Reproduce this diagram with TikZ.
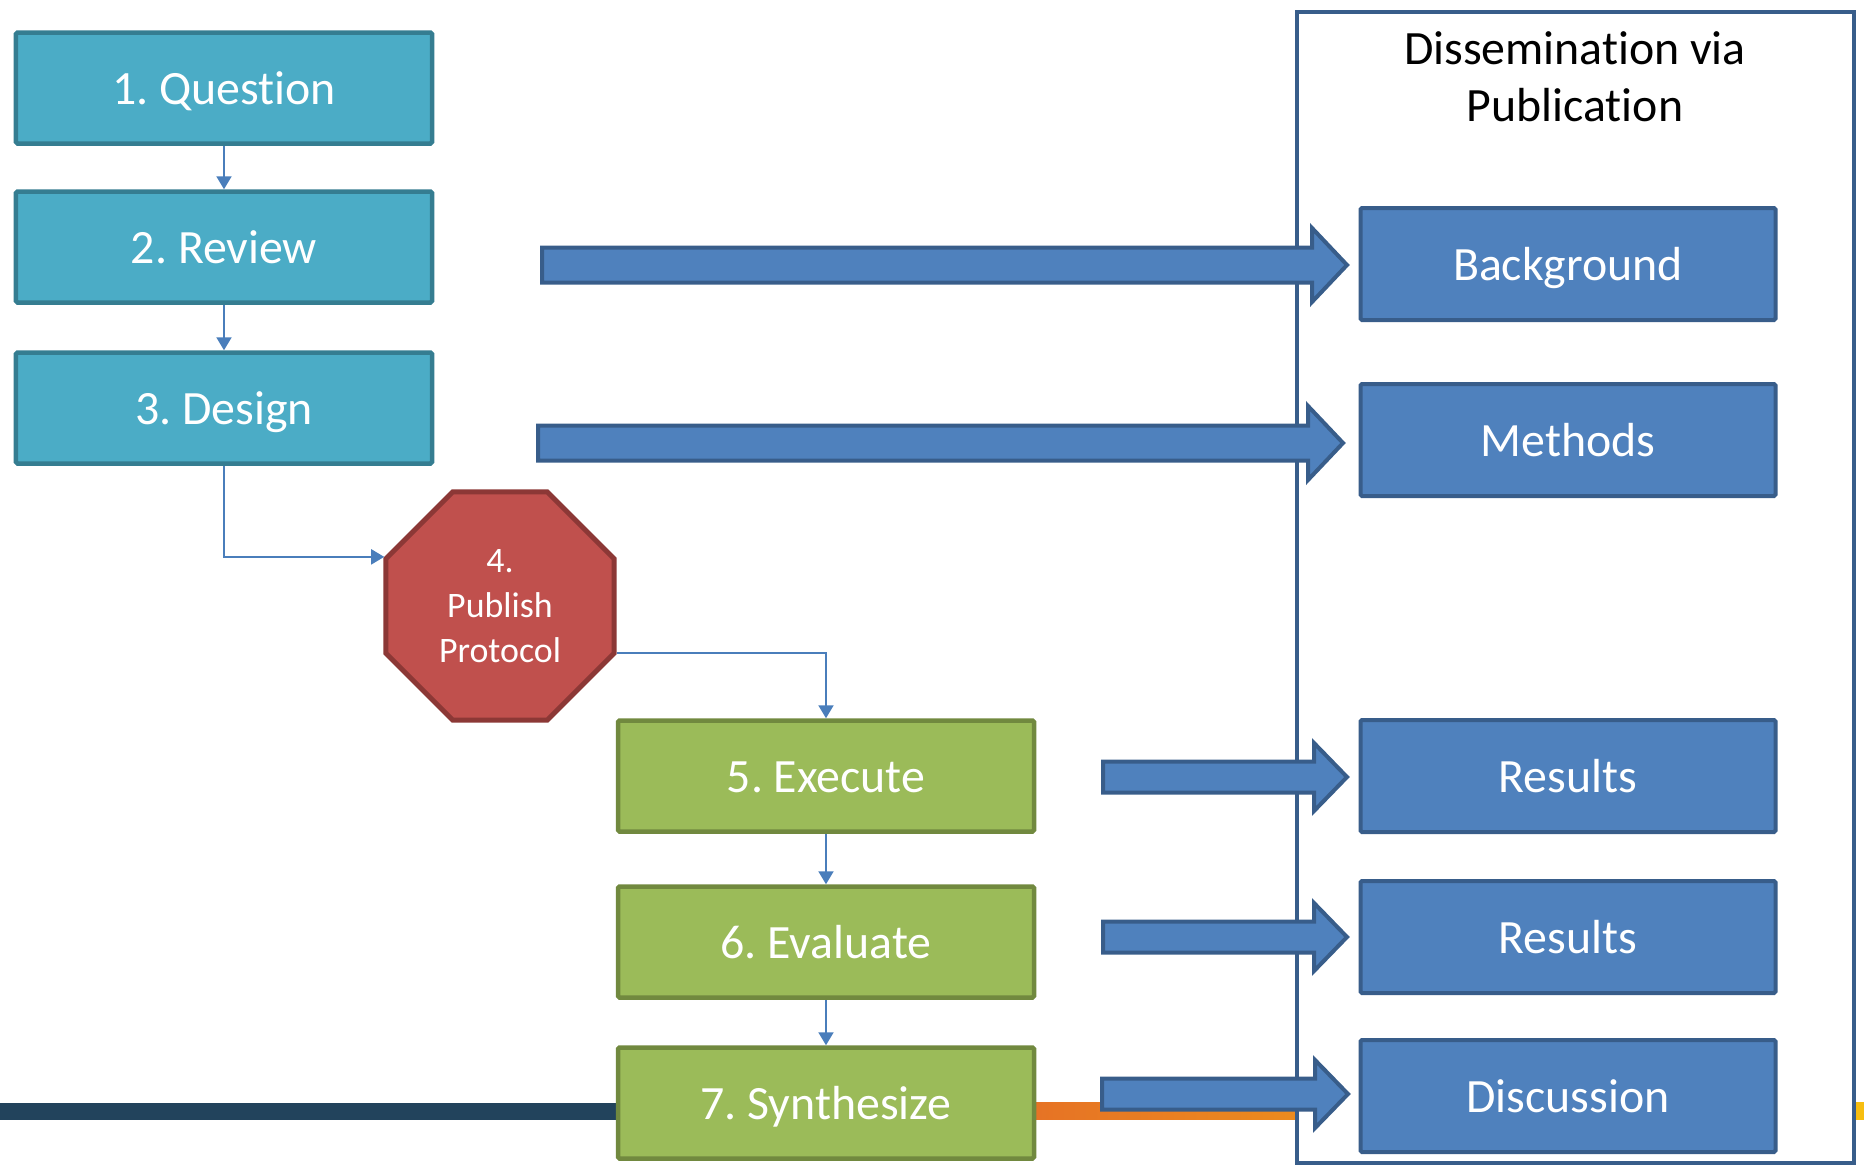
\documentclass[tikz,border=0pt]{standalone}
\usepackage{fontspec}
\setmainfont[Ligatures=NoCommon]{Carlito}
\frenchspacing
\usetikzlibrary{shapes.geometric,arrows.meta}

\definecolor{tealfill}{HTML}{4BACC6}
\definecolor{tealline}{HTML}{357D91}
\definecolor{greenfill}{HTML}{9BBB59}
\definecolor{greenline}{HTML}{71893F}
\definecolor{redfill}{HTML}{C0504D}
\definecolor{redline}{HTML}{8C3836}
\definecolor{bluefill}{HTML}{4F81BD}
\definecolor{blueline}{HTML}{385D8A}
\definecolor{linkblue}{HTML}{4A7EBB}
\definecolor{navyband}{HTML}{22435C}
\definecolor{orangeA}{HTML}{E2602A}
\definecolor{orangeB}{HTML}{F7BE10}

\tikzset{
  stepbox/.style={rectangle, draw, line width=4.5bp, minimum width=416bp,
    minimum height=111bp, inner sep=0pt, rounded corners=1.5bp, text=white,
    font=\fontsize{48}{57}\selectfont, text height=33bp, text depth=0bp},
  planbox/.style={stepbox, fill=tealfill, draw=tealline},
  runbox/.style={stepbox, fill=greenfill, draw=greenline},
  partbox/.style={stepbox, fill=bluefill, draw=blueline, line width=4bp,
    minimum width=415bp, minimum height=112bp},
  stopsign/.style={regular polygon, regular polygon sides=8, minimum size=247bp,
    inner sep=0pt, fill=redfill, draw=redline, line width=5bp, text=white,
    align=center, font=\fontsize{36}{45}\selectfont},
  link/.style={draw=linkblue, line width=2bp, -{Triangle[width=15bp,length=13bp]}},
  bigarrow/.style={fill=bluefill, draw=blueline, line width=4bp, line join=miter},
}

\begin{document}
\begin{tikzpicture}[x=1bp, y=-1bp]
  \useasboundingbox (0,0) rectangle (1864,1167);

  % band along the bottom
  \fill[navyband] (0,1102.5) rectangle (826,1119.5);
  \shade[left color=orangeA, right color=orangeB] (826,1102.5) rectangle (1864,1119.5);

  % publication frame
  \node[draw=blueline, line width=4bp, fill=white, inner sep=0pt,
    minimum width=557bp, minimum height=1151bp] (pub) at (1575.5,587.5) {};
  \node[align=center, font=\fontsize{48}{57}\selectfont] (title) at (1575,77)
    {Dissemination via\\Publication};

  % steps
  \node[planbox] (question) at (224,88) {1. Question};
  \node[planbox] (review) at (224,247) {2. Review};
  \node[planbox] (design) at (224,408) {3. Design};
  \node[stopsign] (protocol) at (500,606) {4.\\Publish\\Protocol};
  \node[runbox] (execute) at (826,776) {5. Execute};
  \node[runbox] (evaluate) at (826,942) {6. Evaluate};
  \node[runbox] (synth) at (826,1103) {7. Synthesize};

  % paper sections
  \node[partbox] (background) at (1568,264) {Background};
  \node[partbox] (methods) at (1568,440) {Methods};
  \node[partbox] (results) at (1568,776) {Results};
  \node[partbox] (resultsb) at (1568,937) {Results};
  \node[partbox] (discussion) at (1568,1096) {Discussion};

  % flow
  \draw[link] (question.south) -- (review.north);
  \draw[link] (review.south) -- (design.north);
  \draw[link] (design.south) |- (protocol.157.5);
  \draw[link] (protocol.-22.5) -| (execute.north);
  \draw[link] (execute.south) -- (evaluate.north);
  \draw[link] (evaluate.south) -- (synth.north);

  % block arrows
  \foreach \xa/\xb/\yc/\sh/\hh/\hl in {542/1347/265/17.5/37/35, 538/1343/443/17.5/37/35,
      1103/1347/777/15.5/34/33, 1103/1347/937/15.5/34/33, 1102/1348/1094/15.5/34/33}
    \draw[bigarrow] (\xa,\yc-\sh) -- (\xb-\hl,\yc-\sh) -- (\xb-\hl,\yc-\hh) -- (\xb,\yc)
      -- (\xb-\hl,\yc+\hh) -- (\xb-\hl,\yc+\sh) -- (\xa,\yc+\sh) -- cycle;
\end{tikzpicture}
\end{document}
